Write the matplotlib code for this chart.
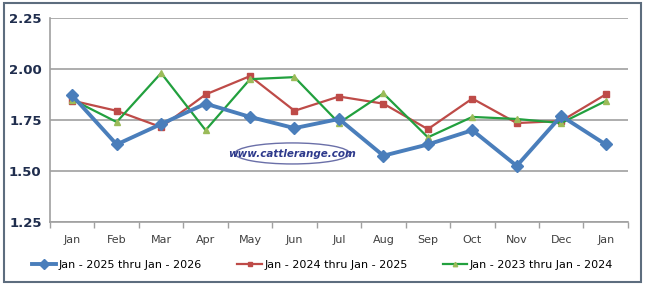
import matplotlib
matplotlib.use("Agg")
import matplotlib.pyplot as plt
from matplotlib.patches import Ellipse, Rectangle

months = ["Jan", "Feb", "Mar", "Apr", "May", "Jun", "Jul", "Aug", "Sep", "Oct", "Nov", "Dec", "Jan"]
s2025 = [1.87, 1.63, 1.73, 1.83, 1.765, 1.71, 1.755, 1.575, 1.63, 1.70, 1.525, 1.77, 1.63]
s2024 = [1.845, 1.795, 1.715, 1.875, 1.965, 1.795, 1.865, 1.83, 1.705, 1.855, 1.735, 1.745, 1.875]
s2023 = [1.85, 1.74, 1.98, 1.70, 1.95, 1.96, 1.735, 1.88, 1.665, 1.765, 1.755, 1.735, 1.843]
labels = ["Jan - 2025 thru Jan - 2026", "Jan - 2024 thru Jan - 2025", "Jan - 2023 thru Jan - 2024"]
yticks = [1.25, 1.50, 1.75, 2.00, 2.25]

fig = plt.figure(figsize=(6.45, 2.85), dpi=100)
# outer chart border
fig.patches.append(Rectangle((0.006, 0.01), 0.988, 0.98, transform=fig.transFigure,
                             fill=False, edgecolor="#5d6d7e", linewidth=1.5))

ax = fig.add_axes([0.0775, 0.221, 0.896, 0.716])
x = list(range(len(months)))

l1, = ax.plot(x, s2025, color="#4a7ebb", lw=2.8, marker="D", ms=6, zorder=5)
l2, = ax.plot(x, s2024, color="#be4b48", lw=1.6, marker="s", ms=4, zorder=4)
l3, = ax.plot(x, s2023, color="#22a03e", lw=1.6, marker="^", ms=4,
              markerfacecolor="#9bbb59", markeredgecolor="#9bbb59", zorder=4)

ax.set_xlim(-0.5, 12.5)
ax.set_ylim(1.25, 2.25)
ax.set_yticks(yticks)
ax.set_yticklabels(["%.2f" % v for v in yticks], fontweight="bold", color="#1f2d4d", fontsize=9.5)
ax.yaxis.grid(True, color="#a0a0a0", lw=1.2)
ax.set_axisbelow(True)
ax.tick_params(axis="y", length=0, pad=6)

ax.set_xticks(x)
ax.set_xticklabels(months, fontsize=8, color="#404040")
ax.set_xticks([i - 0.5 for i in range(14)], minor=True)
ax.tick_params(axis="x", which="major", length=0, pad=9)
ax.tick_params(axis="x", which="minor", length=4, color="#a0a0a0", width=1)

for side in ["top", "right"]:
    ax.spines[side].set_visible(False)
for side in ["left", "bottom"]:
    ax.spines[side].set_color("#a0a0a0")
    ax.spines[side].set_linewidth(1.2)

# watermark
ax.add_patch(Ellipse((4.95, 1.586), 2.58, 0.103, fill=False, edgecolor="#6a6fa8", lw=1, zorder=6))
ax.text(4.95, 1.584, "www.cattlerange.com", ha="center", va="center", fontsize=7.5,
        family=["Liberation Sans Narrow", "DejaVu Sans"],
        style="italic", fontweight="bold", color="#2e3a8c", zorder=6)

fig.legend([l1, l2, l3], labels, loc="center", bbox_to_anchor=(0.5, 0.07), ncol=3,
           frameon=False, fontsize=8, handlelength=2.2, columnspacing=3.2,
           handletextpad=0.2, markerscale=0.8)

fig.savefig("out.png", dpi=100)
